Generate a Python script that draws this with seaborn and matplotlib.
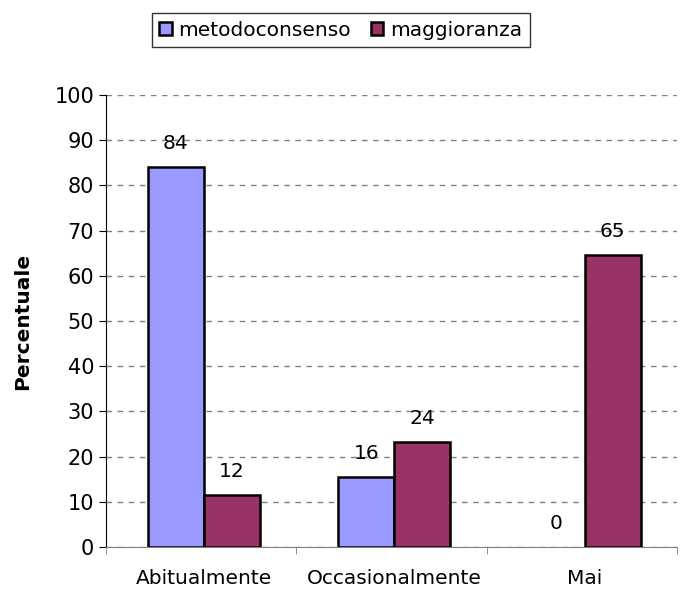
import matplotlib
matplotlib.use("Agg")
from matplotlib import pyplot as plt
import seaborn as sns
import pandas as pd

# data
categories = ['Abitualmente', 'Occasionalmente', 'Mai']
series = ['metodoconsenso', 'maggioranza']
metodoconsenso = [84.0, 15.5, 0.0]
maggioranza = [11.5, 23.3, 64.6]
labels_metodo = ['84', '16', '0']
labels_maggio = ['12', '24', '65']
colors = ['#9999FF', '#993366']

df = pd.DataFrame({
    'categoria': categories * 2,
    'serie': [series[0]] * 3 + [series[1]] * 3,
    'valore': metodoconsenso + maggioranza,
})

sns.set_style('white')
plt.rcParams['font.family'] = ['DejaVu Sans']
plt.rcParams['text.color'] = 'black'
plt.rcParams['axes.labelcolor'] = 'black'
plt.rcParams['xtick.color'] = 'black'
plt.rcParams['ytick.color'] = 'black'

fig = plt.figure(figsize=(6.83, 5.89), dpi=100)
ax = fig.add_axes([0.155, 0.0713, 0.836, 0.7674])

sns.barplot(data=df, x='categoria', y='valore', hue='serie', order=categories,
            hue_order=series, palette=colors, width=0.59, gap=0,
            edgecolor='black', linewidth=1.8, saturation=1, ax=ax, legend=True)

# zero bars show no outline
for p in ax.patches:
    if p.get_height() == 0:
        p.set_linewidth(0)

# value labels
for i, cat in enumerate(categories):
    ax.annotate(labels_metodo[i], (i - 0.1475, metodoconsenso[i]), xytext=(0, 10),
                textcoords='offset points', ha='center', va='bottom', fontsize=14.5)
    ax.annotate(labels_maggio[i], (i + 0.1475, maggioranza[i]), xytext=(0, 10),
                textcoords='offset points', ha='center', va='bottom', fontsize=14.5)

off = 0.015
ax.set_ylim(0, 100)
ax.set_xlim(-0.5 - off, 2.5 - off)
ax.set_yticks(range(0, 101, 10))
ax.yaxis.grid(True, color='#808080', linestyle=(0, (4, 4)), linewidth=1)
ax.set_axisbelow(True)

ax.set_xlabel('')
ax.set_ylabel('Percentuale', fontsize=14.5, fontweight='bold', labelpad=16)

ax.tick_params(axis='y', labelsize=15, length=5, color='black', left=True, direction='out')
ax.tick_params(axis='x', which='major', labelsize=14.5, length=0, pad=16)
ax.set_xticks([-0.5 - off, 0.5 - off, 1.5 - off, 2.5 - off], minor=True)
ax.tick_params(axis='x', which='minor', length=5, color='#808080', bottom=True, direction='out')

for s in ['top', 'right']:
    ax.spines[s].set_visible(False)
ax.spines['left'].set_color('black')
ax.spines['bottom'].set_color('#808080')

handles, lbls = ax.get_legend_handles_labels()
leg = ax.legend(handles, lbls, loc='center', bbox_to_anchor=(341 / 683, 1 - 30 / 589),
                bbox_transform=fig.transFigure, ncol=2, frameon=True, fancybox=False,
                edgecolor='black', fontsize=14.5, handlelength=0.6, handleheight=0.6,
                handletextpad=0.35, columnspacing=1.0, borderpad=0.35)
leg.get_frame().set_linewidth(1)
for h in leg.legend_handles:
    h.set_edgecolor('black')
    h.set_linewidth(1.8)

plt.savefig('out.png', dpi=100)
